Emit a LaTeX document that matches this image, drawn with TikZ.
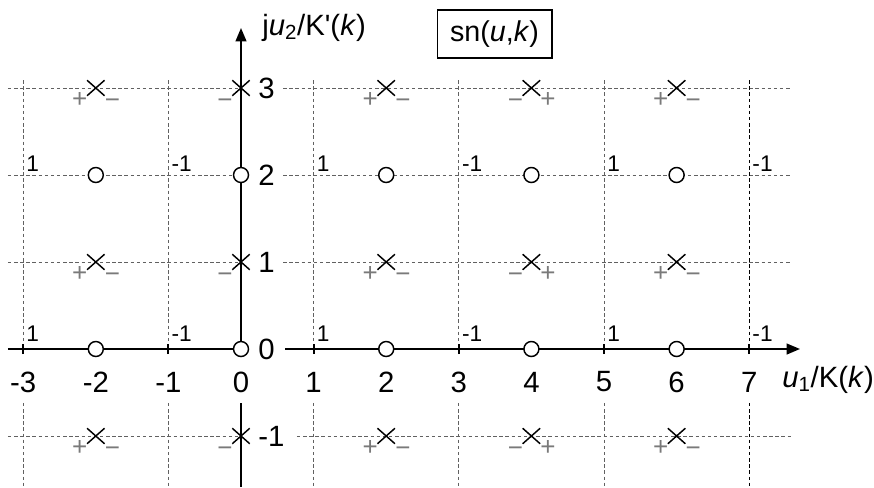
\documentclass[tikz,border=0pt]{standalone}
\usepackage{fontspec}
\setmainfont{Liberation Sans}
\usetikzlibrary{arrows.meta,shapes.misc}
\definecolor{gridgray}{gray}{0.38}
\definecolor{signgray}{gray}{0.48}
\tikzset{
  gridline/.style={gridgray, line width=0.75pt, dash pattern=on 2.6pt off 2pt},
  gridblack/.style={black, line width=0.75pt, dash pattern=on 2.6pt off 2pt},
  axisline/.style={black, line width=1.5pt},
  crossmark/.style={cross out, draw, line width=1.1pt, minimum width=12pt, minimum height=10.5pt, inner sep=0pt},
  zeromark/.style={circle, draw, fill=white, line width=1.1pt, minimum size=11.25pt, inner sep=0pt},
  sgn/.style={signgray, font=\fontsize{19.5}{19.5}\selectfont, inner sep=0pt, anchor=base},
  ticklab/.style={font=\fontsize{22}{22}\selectfont, inner sep=0pt},
  vallab/.style={font=\fontsize{17}{17}\selectfont, inner sep=0pt, anchor=south west},
  axislab/.style={font=\fontsize{22}{22}\selectfont, inner sep=0pt, anchor=base west},
}
\begin{document}
\begin{tikzpicture}[x=54.45pt,y=65.25pt]
\useasboundingbox (-3.3196,-1.5862) rectangle (8.719,4.0115);

% horizontal dashed grid lines
\foreach \yy in {3,2,1} {
  \draw[gridline] (-3.21,\yy) -- (0,\yy);
  \draw[gridline] (0.58,\yy) -- (7.59,\yy);
}
\draw[gridline] (-3.21,-1) -- (0,-1);
\draw[gridline] (0.77,-1) -- (7.59,-1);

% vertical dashed grid lines
\foreach \xx in {-3,-1,1,3,5} {
  \draw[gridline] (\xx,3.09) -- (\xx,0);
  \draw[gridline] (\xx,-0.62) -- (\xx,-1.5862);
}
\draw[gridblack] (7,3.09) -- (7,0);
\draw[gridblack] (7,-0.62) -- (7,-1.5862);

% axes
\coordinate (xstart) at (-3.21,0);
\coordinate (xgap) at (0.61,0);
\coordinate (xend) at (7.70,0);
\coordinate (ybot) at (0,-1.5862);
\coordinate (ygap) at (0,-0.62);
\coordinate (ytop) at (0,3.69);
\coordinate (orig) at (0,0);
\draw[axisline] (xstart) -- (orig);
\draw[axisline,-{Triangle[length=10pt,width=8pt]}] (xgap) -- (xend);
\draw[axisline] (ybot) -- (ygap);
\draw[axisline,-{Triangle[length=10pt,width=8pt]}] (orig) -- (ytop);

% ticks on x axis
\foreach \xx in {-3,-1,1,3,5,7} {
  \draw[axisline] (\xx,-0.06) -- (\xx,0.06);
}

% x tick labels
\foreach \v [count=\i] in {-3,-2,-1,0,1,2,3,4,5,6,7} {
  \node[ticklab] (xl\i) at (\v,-0.379) {\v};
}
% y tick labels
\foreach \v [count=\i] in {3,2,1,0,-1} {
  \node[ticklab, anchor=west] (yl\i) at (0.234,\v) {\v};
}

% small 1 / -1 labels
\foreach \xx/\t [count=\i] in {-3/1,-1/-1,1/1,3/-1,5/1,7/-1} {
  \node[vallab] (va\i) at (\xx+0.041,2.034) {\t};
  \node[vallab] (vb\i) at (\xx+0.041,0.08) {\t};
}

% zeros (circles)
\foreach \xx [count=\i] in {-2,0,2,4,6} {
  \node[zeromark] (za\i) at (\xx,2) {};
  \node[zeromark] (zb\i) at (\xx,0) {};
}

% poles (crosses) with signs
\foreach \yy [count=\j] in {3,1,-1} {
  \node[crossmark] (p0\j) at (0,\yy) {};
  \node[sgn] at ([shift={(-12pt,-15.6pt)}]p0\j) {−};
  \foreach \xx/\l/\ly/\r/\ry [count=\i] in {-2/+/-14.3pt/−/-15.6pt,2/+/-14.3pt/−/-15.6pt,4/−/-15.6pt/+/-14.3pt,6/+/-14.3pt/−/-15.6pt} {
    \node[crossmark] (p\i\j) at (\xx,\yy) {};
    \node[sgn] at ([shift={(-12pt,\ly)}]p\i\j) {\l};
    \node[sgn] at ([shift={(12.5pt,\ry)}]p\i\j) {\r};
  }
}

% axis labels and title box
\node[axislab] (ylab) at (0.289,3.609) {j\textit{u}\textsubscript{2}/K\textquotesingle(\textit{k})};
\node[axislab] (xlab) at (7.452,-0.437) {\textit{u}\textsubscript{1}/K(\textit{k})};
\node[draw, line width=1pt, minimum width=86pt, minimum height=36pt, inner sep=0pt,
      font=\fontsize{21.5}{21.5}\selectfont] (title) at (3.492,3.621) {sn(\textit{u},\textit{k})};
\end{tikzpicture}
\end{document}
